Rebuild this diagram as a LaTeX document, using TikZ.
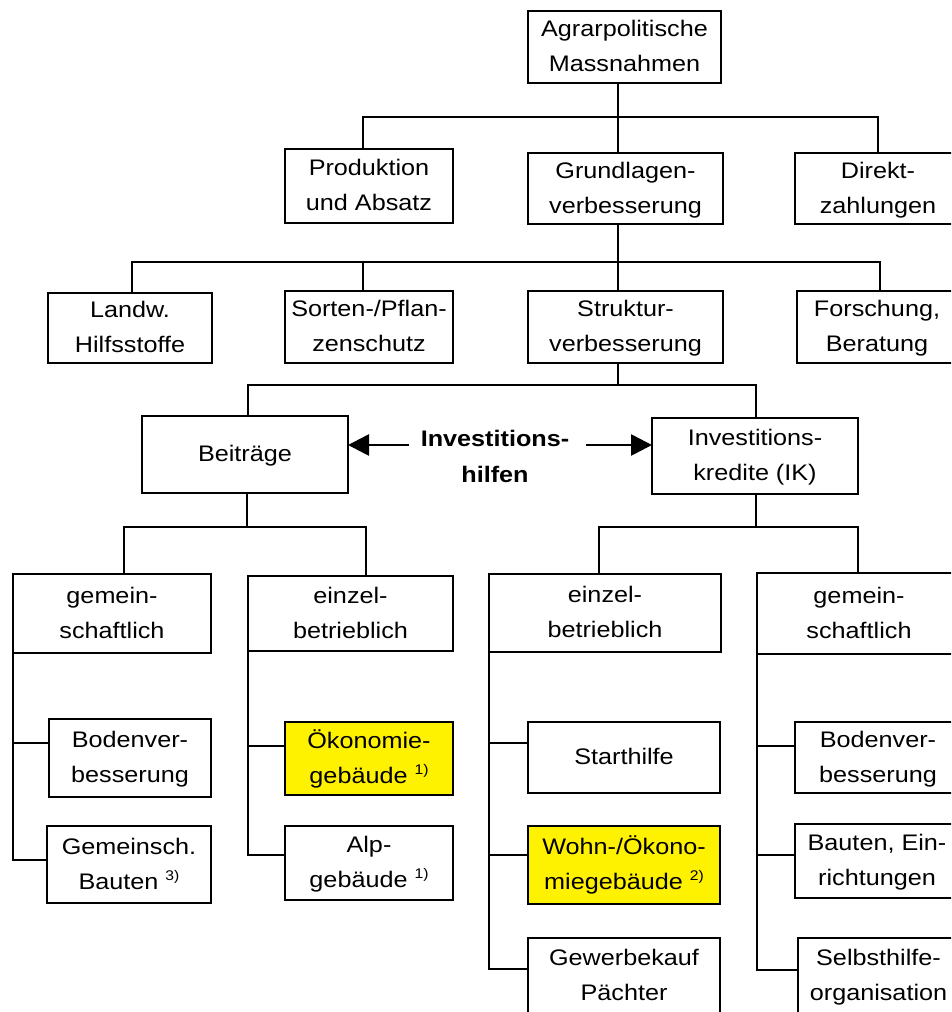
\documentclass[tikz,border=0pt]{standalone}
\usepackage{fontspec}
\setmainfont{Liberation Sans}[FakeStretch=1.12]
\usetikzlibrary{arrows.meta}
\newcommand\fnm[1]{\raisebox{9pt}{\fontsize{14pt}{14pt}\selectfont #1}}
\newcommand\twol[2]{\strut #1\\#2\strut}
\newcommand\onel[1]{\strut #1}
\begin{document}
\begin{tikzpicture}[x=1pt,y=-1pt,
  box/.style={draw, line width=2.7pt, inner sep=0pt, outer sep=0pt, align=center,
    font=\fontsize{22.5pt}{35pt}\selectfont},
  hl/.style={fill=yellow},
  conn/.style={line width=2.7pt},
  tip/.style={-{Triangle[length=21pt,width=21pt]}}]
\fill[white] (0,0) rectangle (951,1012);
\useasboundingbox (0,0) rectangle (951,1012);
\clip (0,0) rectangle (951,1012);

% level 0-2
\node[box, minimum width=193pt, minimum height=72pt] (agrar) at (624.5,47) {\twol{Agrarpolitische}{Massnahmen}};
\node[box, minimum width=168pt, minimum height=74pt] (prod) at (369,186) {\twol{Produktion}{und Absatz}};
\node[box, minimum width=195pt, minimum height=71pt] (grund) at (625.5,188.5) {\twol{Grundlagen-}{verbesserung}};
\node[box, minimum width=166pt, minimum height=71pt] (direkt) at (878,188.5) {\twol{Direkt-}{zahlungen}};

\node[box, minimum width=164pt, minimum height=70pt] (landw) at (130,328) {\twol{Landw.}{Hilfsstoffe}};
\node[box, minimum width=168pt, minimum height=72pt] (sorten) at (369,327) {\twol{Sorten-/Pflan-}{zenschutz}};
\node[box, minimum width=195pt, minimum height=72pt] (struktur) at (625.5,327) {\twol{Struktur-}{verbesserung}};
\node[box, minimum width=160pt, minimum height=72pt] (forsch) at (877,327) {\twol{Forschung,}{Beratung}};

\node[box, minimum width=206pt, minimum height=77pt] (beit) at (245,454.5) {\onel{Beiträge}};
\node[box, minimum width=206pt, minimum height=76pt] (ik) at (755,456) {\twol{Investitions-}{kredite (IK)}};
\node[align=center, inner sep=0pt, font=\bfseries\fontsize{22.5pt}{36pt}\selectfont] (inv) at (495,457) {\twol{Investitions-}{hilfen}};

% level 4
\node[box, minimum width=198pt, minimum height=79pt] (gemL) at (112,613.5) {\twol{gemein-}{schaftlich}};
\node[box, minimum width=205pt, minimum height=75pt] (einzL) at (350.5,613.5) {\twol{einzel-}{betrieblich}};
\node[box, minimum width=232pt, minimum height=78pt] (einzR) at (605,613) {\twol{einzel-}{betrieblich}};
\node[box, minimum width=204pt, minimum height=81pt] (gemR) at (859,613.5) {\twol{gemein-}{schaftlich}};

% leaves
\node[box, minimum width=162pt, minimum height=78pt] (bodL) at (130,758) {\twol{Bodenver-}{besserung}};
\node[box, minimum width=164pt, minimum height=77pt] (gemB) at (129,864.5) {\twol{Gemeinsch.}{Bauten \fnm{3)}}};
\node[box, hl, minimum width=168pt, minimum height=73pt] (oek) at (369,758.5) {\twol{Ökonomie-}{gebäude \fnm{1)}}};
\node[box, minimum width=168pt, minimum height=74pt] (alp) at (369,863) {\twol{Alp-}{gebäude \fnm{1)}}};
\node[box, minimum width=192pt, minimum height=71pt] (start) at (624,757.5) {\onel{Starthilfe}};
\node[box, hl, minimum width=192pt, minimum height=78pt] (wohn) at (624,865) {\twol{Wohn-/Ökono-}{miegebäude \fnm{2)}}};
\node[box, minimum width=192pt, minimum height=76pt] (gewerbe) at (624,976) {\twol{Gewerbekauf}{Pächter}};
\node[box, minimum width=166pt, minimum height=71pt] (bodR) at (878,757.5) {\twol{Bodenver-}{besserung}};
\node[box, minimum width=164pt, minimum height=74pt] (bauten) at (877,861) {\twol{Bauten, Ein-}{richtungen}};
\node[box, minimum width=161pt, minimum height=76pt] (selbst) at (878.5,976) {\twol{Selbsthilfe-}{organisation}};

% helper coordinates
\coordinate (tx) at (618,0);
\coordinate (b1) at (0,117);
\coordinate (b2) at (0,262);
\coordinate (b3) at (0,385);
\coordinate (b4) at (0,527);
\coordinate (al) at (409,445);
\coordinate (ar) at (586,445);

% tree connectors
\draw[conn] (agrar.south -| tx) -- (grund.north -| tx);
\coordinate (pd) at ([xshift=-6pt]prod.north);
\draw[conn] (pd) |- (b1 -| direkt.north) -- (direkt.north);

\draw[conn] (grund.south -| tx) -- (struktur.north -| tx);
\coordinate (ld) at ([xshift=2pt]landw.north);
\coordinate (fd) at ([xshift=3pt]forsch.north);
\draw[conn] (ld) |- (b2 -| fd) -- (fd);
\coordinate (sd) at ([xshift=-6pt]sorten.north);
\draw[conn] (sd) -- (sd |- b2);

\draw[conn] (struktur.south -| tx) -- (b3 -| tx);
\coordinate (bd) at ([xshift=3pt]beit.north);
\coordinate (id) at ([xshift=1pt]ik.north);
\draw[conn] (bd) |- (b3 -| id) -- (id);

\coordinate (bs) at ([xshift=2pt]beit.south);
\draw[conn] (bs) -- (bs |- b4);
\coordinate (g1) at ([xshift=12pt]gemL.north);
\coordinate (e1) at ([xshift=15.5pt]einzL.north);
\draw[conn] (g1) |- (b4 -| e1) -- (e1);

\coordinate (is) at ([xshift=1pt]ik.south);
\draw[conn] (is) -- (is |- b4);
\coordinate (e2) at ([xshift=-6pt]einzR.north);
\coordinate (g2) at ([xshift=-1pt]gemR.north);
\draw[conn] (e2) |- (b4 -| g2) -- (g2);

% arrows
\draw[conn, tip] (al) -- (al -| beit.east);
\draw[conn, tip] (ar) -- (ar -| ik.west);

% list connectors
\draw[conn] (gemL.south west) |- ([yshift=4.5pt]gemB.west);
\coordinate (k1) at ([yshift=15pt]bodL.west);
\draw[conn] (k1) -- (k1 -| gemL.south west);

\draw[conn] (einzL.south west) |- ([yshift=8pt]alp.west);
\coordinate (k2) at ([yshift=12.5pt]oek.west);
\draw[conn] (k2) -- (k2 -| einzL.south west);

\draw[conn] (einzR.south west) |- ([yshift=7pt]gewerbe.west);
\coordinate (k3) at ([yshift=14.5pt]start.west);
\draw[conn] (k3) -- (k3 -| einzR.south west);
\coordinate (k4) at ([yshift=10pt]wohn.west);
\draw[conn] (k4) -- (k4 -| einzR.south west);

\draw[conn] (gemR.south west) |- ([yshift=6pt]selbst.west);
\coordinate (k5) at ([yshift=11.5pt]bodR.west);
\draw[conn] (k5) -- (k5 -| gemR.south west);
\coordinate (k6) at ([yshift=6pt]bauten.west);
\draw[conn] (k6) -- (k6 -| gemR.south west);
\end{tikzpicture}
\end{document}
